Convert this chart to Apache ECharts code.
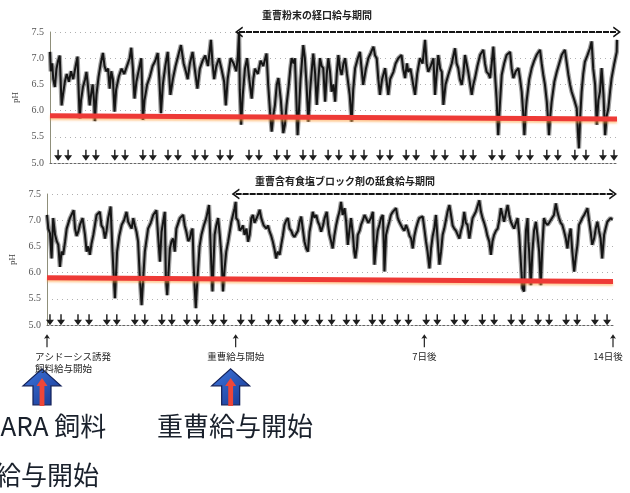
<!DOCTYPE html>
<html>
<head>
<meta charset="utf-8">
<script src="https://cdn.jsdelivr.net/npm/echarts@6/dist/echarts.min.js"></script>
<style>
html,body{margin:0;padding:0;background:#fff;}
#chart{width:630px;height:493px;}
</style>
</head>
<body>
<div id="chart"></div>
<script>
// ---- data (days since start of acidosis feed, rumen pH) ----
const topTrace = [
[0.00,7.12],[0.03,6.75],[0.08,6.9],[0.12,6.6],[0.18,6.45],[0.24,6.8],[0.3,6.95],[0.36,7.05],[0.40,6.5],[0.43,6.1],[0.48,6.3],[0.55,6.55],[0.62,6.7],[0.7,6.55],[0.78,6.75],[0.86,6.6],[0.95,6.85],[1.02,7.03],[1.06,6.4],[1.10,5.85],[1.15,6.2],[1.22,6.45],[1.30,6.6],[1.35,6.74],[1.40,6.5],[1.47,6.1],[1.52,6.3],[1.58,6.5],[1.63,6.2],[1.66,5.8],[1.72,6.3],[1.80,6.65],[1.88,6.9],[1.96,7.1],[2.02,6.85],[2.08,6.75],[2.15,6.8],[2.21,6.42],[2.27,6.75],[2.33,6.6],[2.39,5.98],[2.45,6.4],[2.55,6.65],[2.65,6.8],[2.75,6.7],[2.85,6.85],[2.95,7.0],[3.01,7.2],[3.07,6.8],[3.13,6.23],[3.2,6.55],[3.28,6.75],[3.38,7.0],[3.41,6.5],[3.44,5.82],[3.5,6.2],[3.6,6.5],[3.7,6.65],[3.8,6.85],[3.9,6.95],[3.99,7.1],[4.05,6.6],[4.11,5.95],[4.18,6.5],[4.27,6.85],[4.36,7.12],[4.41,6.7],[4.46,6.3],[4.55,6.6],[4.65,6.85],[4.75,7.05],[4.85,7.25],[4.95,6.9],[5.03,6.75],[5.1,6.6],[5.18,6.9],[5.28,7.12],[5.36,6.8],[5.46,6.42],[5.55,6.8],[5.65,6.95],[5.75,7.05],[5.85,6.85],[5.96,7.35],[6.02,6.9],[6.08,6.6],[6.16,6.85],[6.26,7.0],[6.35,6.8],[6.45,6.55],[6.51,6.1],[6.58,6.6],[6.69,7.0],[6.8,6.9],[6.9,6.75],[6.96,7.05],[7.0,7.5],[7.03,6.4],[7.08,5.73],
[7.14,6.3],[7.22,6.8],[7.3,7.0],[7.38,6.6],[7.47,6.23],[7.53,6.6],[7.59,6.8],[7.7,6.7],[7.8,6.95],[7.9,6.85],[8.02,7.09],[8.08,6.5],[8.15,5.98],[8.21,5.6],[8.27,5.9],[8.33,6.1],[8.4,6.5],[8.46,6.62],[8.55,6.2],[8.64,5.57],[8.70,5.73],[8.76,6.1],[8.83,6.42],[8.9,6.8],[8.95,7.0],[9.02,6.9],[9.07,7.0],[9.12,6.3],[9.17,5.53],[9.22,6.0],[9.28,6.6],[9.38,7.25],[9.44,7.0],[9.50,6.5],[9.57,5.79],[9.63,6.36],[9.7,6.8],[9.75,7.09],[9.82,6.7],[9.88,6.11],[9.94,6.6],[10.0,7.0],[10.06,6.85],[10.12,6.81],[10.19,6.17],[10.25,6.7],[10.31,7.0],[10.37,6.75],[10.43,6.36],[10.5,6.5],[10.56,6.17],[10.62,6.7],[10.68,7.06],[10.74,6.8],[10.80,6.68],[10.87,6.9],[10.93,7.0],[11.0,6.7],[11.1,6.3],[11.17,5.79],[11.23,6.4],[11.3,6.81],[11.4,7.0],[11.48,7.12],[11.54,6.8],[11.6,6.49],[11.7,6.8],[11.79,7.0],[11.88,7.1],[11.98,7.22],[12.04,7.05],[12.1,7.0],[12.16,6.6],[12.22,6.3],[12.3,6.6],[12.41,6.81],[12.47,6.55],[12.53,6.3],[12.6,6.6],[12.72,6.74],[12.8,6.9],[12.9,7.0],[13.02,7.06],[13.08,6.8],[13.15,6.62],[13.22,6.9],[13.27,6.74],[13.35,6.8],[13.45,6.5],[13.52,6.3],[13.6,6.7],[13.7,7.0],[13.8,6.9],[13.89,7.35],[13.95,6.9],[14.01,6.74],[14.1,6.85],[14.2,7.0],
[14.26,6.3],[14.32,6.7],[14.38,7.06],[14.45,6.8],[14.51,6.74],[14.57,6.11],[14.65,6.5],[14.75,6.68],[14.88,6.9],[15.0,7.19],[15.06,6.9],[15.12,6.81],[15.18,6.6],[15.25,6.49],[15.31,6.7],[15.37,7.06],[15.43,6.9],[15.49,6.74],[15.56,6.5],[15.62,6.3],[15.68,6.5],[15.74,6.62],[15.83,6.85],[15.93,7.06],[16.05,7.16],[16.11,6.9],[16.17,6.74],[16.24,6.7],[16.3,6.62],[16.36,6.9],[16.42,7.22],[16.48,6.7],[16.54,6.23],[16.6,5.53],[16.66,6.1],[16.73,6.68],[16.82,6.9],[16.91,7.06],[17.04,7.12],[17.1,6.8],[17.16,6.62],[17.25,6.75],[17.35,6.81],[17.41,6.6],[17.47,6.36],[17.52,6.0],[17.57,5.53],[17.62,6.0],[17.65,6.17],[17.75,6.6],[17.84,6.81],[17.93,6.95],[18.02,7.06],[18.15,7.16],[18.21,6.9],[18.27,6.68],[18.33,6.5],[18.40,6.17],[18.45,5.8],[18.48,5.53],[18.53,5.9],[18.58,6.17],[18.68,6.55],[18.77,6.74],[18.86,6.9],[18.95,7.06],[19.07,7.16],[19.14,6.9],[19.2,6.68],[19.26,6.5],[19.32,6.36],[19.42,6.2],[19.51,6.04],[19.55,5.6],[19.59,5.28],[19.64,5.9],[19.69,6.36],[19.75,6.7],[19.81,6.93],[19.9,7.05],[20.0,7.19],[20.06,7.32],[20.12,6.8],[20.19,6.49],[20.25,5.73],[20.31,6.2],[20.37,6.36],[20.43,6.81],[20.5,6.3],[20.56,5.53],[20.62,5.9],[20.68,6.04],[20.75,6.4],[20.8,6.62],[20.9,6.9],[20.99,7.12],[21.0,7.35]
];

const bottomTrace = [
[0.0,7.1],[0.05,6.84],[0.11,6.75],[0.17,6.27],[0.23,7.04],[0.3,6.72],[0.36,6.6],[0.42,6.53],[0.48,6.11],[0.54,6.4],[0.6,6.34],[0.67,6.59],[0.73,6.84],[0.85,7.04],[0.99,7.19],[1.04,6.84],[1.1,6.7],[1.16,6.78],[1.22,6.91],[1.32,7.04],[1.41,6.72],[1.47,6.4],[1.53,6.5],[1.59,6.34],[1.65,6.55],[1.72,6.72],[1.84,7.1],[1.96,7.16],[2.02,6.9],[2.09,6.84],[2.15,6.65],[2.21,6.8],[2.27,7.04],[2.36,7.26],[2.43,6.4],[2.48,5.9],[2.52,5.51],[2.56,5.95],[2.6,6.4],[2.68,6.7],[2.77,6.91],[2.86,7.0],[2.95,7.16],[3.01,6.97],[3.08,6.9],[3.14,6.84],[3.2,7.04],[3.26,6.9],[3.32,6.78],[3.38,6.59],[3.44,5.95],[3.51,5.38],[3.57,5.89],[3.63,6.4],[3.75,6.84],[3.85,6.95],[3.94,7.1],[4.06,7.19],[4.12,6.72],[4.19,6.21],[4.25,6.78],[4.37,7.16],[4.41,5.89],[4.46,5.57],[4.52,6.1],[4.56,6.46],[4.62,6.6],[4.68,6.65],[4.74,6.4],[4.8,6.84],[4.93,7.04],[5.05,7.1],[5.11,6.9],[5.17,6.78],[5.24,6.6],[5.3,6.65],[5.36,6.8],[5.4,6.84],[5.44,6.15],[5.48,5.7],[5.52,5.32],[5.56,5.7],[5.6,6.02],[5.66,6.5],[5.73,6.72],[5.82,6.9],[5.91,7.04],[6.01,7.29],[6.06,6.65],[6.1,6.1],[6.14,5.64],[6.18,6.2],[6.22,6.72],[6.28,6.9],[6.35,7.04],[6.41,6.72],[6.47,6.34],[6.53,5.64],[6.59,6.08],[6.65,6.4],[6.72,6.59],[6.84,6.97],[6.96,7.23],[7.0,7.35],
[7.02,7.04],[7.09,6.99],[7.15,6.8],[7.21,6.84],[7.27,6.9],[7.33,6.72],[7.4,6.84],[7.46,6.59],[7.52,6.72],[7.58,7.04],[7.64,7.1],[7.7,6.95],[7.77,6.97],[7.83,7.1],[7.89,7.2],[7.95,7.04],[8.04,6.9],[8.14,6.84],[8.2,6.9],[8.26,6.78],[8.32,6.7],[8.38,6.59],[8.44,6.45],[8.5,6.27],[8.56,6.4],[8.63,6.34],[8.69,6.53],[8.75,6.7],[8.81,6.91],[8.88,7.0],[8.94,7.04],[9.0,6.84],[9.06,6.8],[9.12,6.72],[9.18,6.68],[9.25,6.65],[9.31,6.8],[9.37,6.97],[9.43,7.07],[9.49,6.84],[9.55,6.6],[9.62,6.46],[9.68,6.4],[9.74,6.78],[9.8,6.95],[9.86,7.16],[9.92,7.05],[9.99,7.1],[10.05,6.97],[10.11,6.9],[10.17,6.78],[10.24,6.9],[10.3,7.04],[10.38,7.16],[10.43,6.9],[10.48,6.72],[10.54,6.6],[10.6,6.46],[10.66,6.7],[10.73,6.91],[10.79,7.05],[10.85,7.16],[10.91,7.35],[10.97,7.1],[11.04,7.23],[11.1,6.97],[11.16,6.53],[11.22,6.8],[11.28,7.04],[11.35,6.72],[11.4,6.4],[11.44,6.27],[11.5,6.5],[11.53,6.72],[11.6,6.8],[11.65,6.91],[11.72,7.0],[11.78,7.1],[11.84,7.04],[11.92,6.95],[12.02,7.04],[12.09,7.16],[12.12,6.6],[12.15,6.15],[12.21,6.53],[12.27,6.8],[12.33,6.91],[12.4,7.05],[12.46,7.1],[12.5,6.5],[12.52,6.02],[12.58,6.72],[12.64,6.85],[12.7,6.97],[12.76,7.1],[12.83,7.16],[12.95,7.23],[13.01,7.05],[13.07,6.97],[13.14,6.9],[13.2,6.84],[13.26,6.8],[13.32,6.91],[13.4,6.8],[13.45,6.7],[13.51,6.65],[13.57,6.46],[13.63,6.7],[13.69,6.84],[13.75,6.95],[13.81,7.04],[13.94,7.07],
[14.0,6.84],[14.06,6.6],[14.12,6.4],[14.19,6.08],[14.25,6.46],[14.31,6.7],[14.37,6.84],[14.43,7.1],[14.49,6.65],[14.56,6.15],[14.62,6.4],[14.68,6.72],[14.74,6.84],[14.8,7.0],[14.86,7.16],[14.93,7.29],[14.99,7.1],[15.05,6.9],[15.11,6.84],[15.17,6.8],[15.23,6.78],[15.3,6.65],[15.36,6.8],[15.42,6.91],[15.48,7.16],[15.54,6.95],[15.6,6.91],[15.67,6.65],[15.73,6.85],[15.79,7.04],[15.85,7.1],[15.91,7.16],[16.04,7.38],[16.1,7.16],[16.16,7.04],[16.22,6.95],[16.28,6.84],[16.34,6.7],[16.41,6.59],[16.47,6.34],[16.53,6.6],[16.59,6.72],[16.66,6.8],[16.72,6.84],[16.78,7.0],[16.84,7.23],[16.9,7.1],[16.96,6.97],[17.03,7.15],[17.09,7.29],[17.15,7.1],[17.21,6.97],[17.27,6.9],[17.33,6.84],[17.4,6.95],[17.46,7.04],[17.52,6.72],[17.58,6.21],[17.64,5.7],[17.7,5.64],[17.74,6.4],[17.77,6.8],[17.83,7.04],[17.86,6.6],[17.89,6.4],[17.95,5.76],[18.01,6.4],[18.07,6.8],[18.14,6.97],[18.2,6.7],[18.26,6.4],[18.32,5.76],[18.38,6.53],[18.44,7.04],[18.5,6.95],[18.57,6.91],[18.63,6.95],[18.69,6.97],[18.75,7.05],[18.81,7.1],[18.88,7.32],[18.94,7.15],[19.0,7.04],[19.06,6.95],[19.12,6.91],[19.18,6.8],[19.25,6.65],[19.31,6.46],[19.37,6.7],[19.43,6.84],[19.49,6.4],[19.56,6.02],[19.62,6.3],[19.68,6.53],[19.74,6.91],[19.8,6.97],[19.86,7.04],[19.93,7.1],[19.99,7.16],[20.05,7.23],[20.11,7.0],[20.17,6.78],[20.23,6.53],[20.3,6.65],[20.36,6.84],[20.42,6.97],[20.48,6.8],[20.54,6.65],[20.6,6.27],[20.67,6.72],[20.73,6.85],[20.79,6.97],[20.85,7.0],[20.91,7.04],[20.98,7.01]
];

// threshold (red) line end points [day, pH]
const topThreshold = [[0, 5.9], [21, 5.84]];
const bottomThreshold = [[0, 5.9], [21, 5.83]];

// feeding times (↓ marks), in days
const topFeeds = [0.3,0.67,1.33,1.7,2.4,2.78,3.44,3.81,4.37,4.74,5.37,5.74,6.3,6.67,7.37,7.74,8.4,8.78,9.37,9.74,10.3,10.7,11.22,11.63,12.22,12.59,13.19,13.56,14.22,14.63,15.3,15.67,16.37,16.74,17.37,17.78,18.4,18.81,19.44,19.85,20.48,20.89];
const bottomFeeds = [0.11,0.52,1.15,1.56,2.22,2.59,3.26,3.63,4.26,4.63,5.19,5.56,6.15,6.56,7.19,7.59,8.22,8.63,9.19,9.59,10.11,10.56,11.11,11.48,12.07,12.44,13.0,13.41,14.07,14.48,15.11,15.52,16.15,16.59,17.22,17.63,18.22,18.63,19.26,19.67,20.33,20.78];

// milestones on the time axis
const milestoneDays = [0, 7, 14, 21];
const milestoneLabels = ['アシドーシス誘発\n飼料給与開始', '重曹給与開始', '7日後', '14日後'];
const highlightDays = [0, 7];

// treatment periods
const topPeriod = { from: 7, to: 21, text: '重曹粉末の経口給与期間' };
const bottomPeriod = { from: 7, to: 21, text: '重曹含有食塩ブロック剤の舐食給与期間' };

const yTicks = [5.0, 5.5, 6.0, 6.5, 7.0, 7.5];

// ---- chart ----
const chart = echarts.init(document.getElementById('chart'), null, { renderer: 'canvas' });

const downArrow = 'path://M4.1,0 L5.9,0 L5.9,6 L10,6 L5,12 L0,6 L4.1,6 Z';
const upArrowSmall = 'path://M5,0 L9,5 L5.8,4.2 L5.8,14 L4.2,14 L4.2,4.2 L1,5 Z';
const blockArrow = 'path://M19,0 L38,17 L28,17 L28,36 L10,36 L10,17 L0,17 Z';
const innerArrow = 'path://M5,0 L10,8 L7.2,8 L7.2,28 L2.8,28 L2.8,8 L0,8 Z';
const chevron = 'path://M0,10 L5,0 L10,10 L8.6,10.8 L5,3.6 L1.4,10.8 Z';

function yAxisCfg(gridIndex) {
  return {
    type: 'value', gridIndex: gridIndex, min: 5, max: 7.5, interval: 0.5,
    name: 'pH', nameLocation: 'middle', nameGap: 28,
    nameTextStyle: { fontFamily: 'Liberation Serif', fontSize: 9, color: '#444' },
    axisLine: { show: true, lineStyle: { color: '#8f8f7a', width: 1 } },
    axisTick: { show: false },
    axisLabel: { fontFamily: 'Liberation Serif', fontSize: 10, color: '#555', margin: 6,
      formatter: v => yTicks.indexOf(v) >= 0 ? v.toFixed(1) : '' },
    splitLine: { show: true, lineStyle: { color: '#b0b0b0', type: [1, 4], width: 1 } }
  };
}
function xAxisCfg(gridIndex) {
  return {
    type: 'value', gridIndex: gridIndex, min: 0, max: 21,
    axisLine: { show: true, lineStyle: { color: '#666', type: [2, 2], width: 1 } },
    axisTick: { show: false }, axisLabel: { show: false }, splitLine: { show: false }
  };
}
function periodMarks(period, lowY, highY) {
  const v = d => [{ coord: [d, lowY], symbol: 'none' }, { coord: [d, highY], symbol: 'none' }];
  return {
    silent: true, animation: false, label: { show: false },
    lineStyle: { color: '#9b9b7c', width: 1, type: 'solid' },
    data: milestoneDays.slice(1).map(d => v(d)).concat([[
      { coord: [period.from, 7.5], symbol: chevron, symbolSize: [11, 8],
        lineStyle: { color: '#151515', width: 2, type: [6, 1] } },
      { coord: [period.to, 7.5], symbol: chevron, symbolSize: [11, 8] }
    ]])
  };
}
function panelSeries(idx, trace, threshold, feeds, feedY, period, vLow, vHigh) {
  return [
    { type: 'line', xAxisIndex: idx, yAxisIndex: idx, data: trace, showSymbol: false, z: 2,
      lineStyle: { color: 'rgba(80,80,80,0.55)', width: 4.5 }, silent: true },
    { type: 'line', xAxisIndex: idx, yAxisIndex: idx, data: trace, showSymbol: false, z: 3,
      lineStyle: { color: '#141414', width: 2 }, silent: true },
    { type: 'line', xAxisIndex: idx, yAxisIndex: idx, data: threshold, showSymbol: false, z: 4,
      lineStyle: { color: '#ee3a36', width: 5, shadowColor: 'rgba(255,160,60,0.5)', shadowBlur: 2, shadowOffsetY: 2 },
      silent: true, markLine: periodMarks(period, vLow, vHigh) },
    { type: 'scatter', xAxisIndex: idx, yAxisIndex: idx, data: feeds.map(t => [t, feedY]),
      symbol: downArrow, symbolSize: [8, 11], itemStyle: { color: '#1e1e1e', opacity: 1 }, z: 5, silent: true }
  ];
}

const option = {
  animation: false,
  backgroundColor: '#ffffff',
  grid: [
    { left: 50, right: 13, top: 32, height: 131 },
    { left: 47, right: 17, top: 194, height: 131 }
  ],
  xAxis: [xAxisCfg(0), xAxisCfg(1)],
  yAxis: [yAxisCfg(0), yAxisCfg(1)],
  series: [].concat(
    panelSeries(0, topTrace, topThreshold, topFeeds, 5.15, topPeriod, 4.87, 7.73),
    panelSeries(1, bottomTrace, bottomThreshold, bottomFeeds, 5.1, bottomPeriod, 4.9, 7.95),
    [
      { type: 'scatter', xAxisIndex: 1, yAxisIndex: 1, clip: false, silent: true, z: 6,
        data: milestoneDays.map((d, i) => ({
          value: [d, 4.7], name: milestoneLabels[i],
          label: i === 0 ? { align: 'left', offset: [-12, 0] } : (i === 3 ? { offset: [-5, 0] } : {})
        })),
        symbol: upArrowSmall, symbolSize: [6, 13], itemStyle: { color: '#222', opacity: 1 },
        label: { show: true, position: 'bottom', distance: 3, formatter: p => p.name,
          fontFamily: 'Noto Sans CJK JP', fontSize: 9.5, lineHeight: 12, color: '#222' } },
      { type: 'scatter', xAxisIndex: 1, yAxisIndex: 1, clip: false, silent: true, z: 6,
        data: highlightDays.map(d => [d, 3.82]), symbol: blockArrow, symbolSize: [38, 36],
        symbolOffset: [-5, 0],
        itemStyle: { opacity: 1, color: new echarts.graphic.LinearGradient(0, 0, 1, 1, [
          { offset: 0, color: '#3f78e0' }, { offset: 1, color: '#17358e' }]),
          borderColor: '#14225a', borderWidth: 1.2 } },
      { type: 'scatter', xAxisIndex: 1, yAxisIndex: 1, clip: false, silent: true, z: 7,
        data: highlightDays.map(d => [d, 3.72]), symbol: innerArrow, symbolSize: [11, 28],
        symbolOffset: [-5, 0],
        itemStyle: { color: '#ee4638', opacity: 1 } }
    ]
  ),
  graphic: [
    { type: 'text', left: 262, top: 10, silent: true,
      style: { text: topPeriod.text, font: 'bold 10px "Noto Sans CJK JP"', fill: '#222' } },
    { type: 'text', left: 255, top: 176, silent: true,
      style: { text: bottomPeriod.text, font: 'bold 10px "Noto Sans CJK JP"', fill: '#222' } },
    { type: 'text', left: -15, top: 413, silent: true,
      style: { text: 'SARA 飼料', font: '26px "Noto Sans CJK JP"', fill: '#1a212c' } },
    { type: 'text', left: -5, top: 462, silent: true,
      style: { text: '給与開始', font: '26px "Noto Sans CJK JP"', fill: '#1a212c' } },
    { type: 'text', left: 157, top: 413, silent: true,
      style: { text: '重曹給与開始', font: '26px "Noto Sans CJK JP"', fill: '#1a212c' } }
  ]
};
chart.setOption(option);
</script>
</body>
</html>
